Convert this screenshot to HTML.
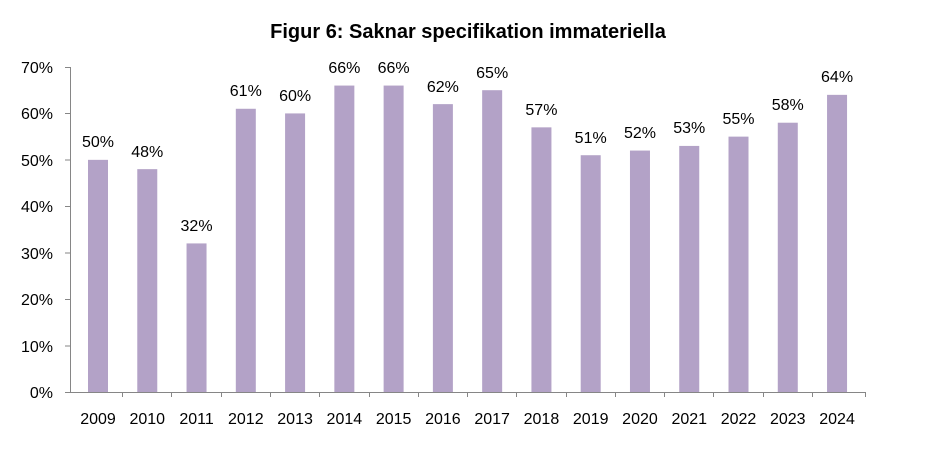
<!DOCTYPE html>
<html><head><meta charset="utf-8"><style>
html,body{margin:0;padding:0;background:#fff;}
svg{display:block;font-family:"Liberation Sans",Arial,sans-serif;}
</style></head><body>
<svg width="937" height="451" viewBox="0 0 937 451" xmlns="http://www.w3.org/2000/svg">
<rect width="937" height="451" fill="#fff"/>
<text x="468" y="38" text-anchor="middle" font-size="20" font-weight="bold" fill="#000">Figur 6: Saknar specifikation immateriella</text>
<g font-size="16" fill="#000" text-anchor="end">
<text x="53" y="398">0%</text>
<text x="53" y="352">10%</text>
<text x="53" y="305">20%</text>
<text x="53" y="259">30%</text>
<text x="53" y="212">40%</text>
<text x="53" y="166">50%</text>
<text x="53" y="119">60%</text>
<text x="53" y="73">70%</text>
</g>
<g fill="#b3a2c7">
<rect x="88" y="159.85" width="20" height="232.15"/>
<rect x="137.27" y="169.14" width="20" height="222.86"/>
<rect x="186.54" y="243.42" width="20" height="148.58"/>
<rect x="235.81" y="108.78" width="20" height="283.22"/>
<rect x="285.08" y="113.42" width="20" height="278.58"/>
<rect x="334.35" y="85.56" width="20" height="306.44"/>
<rect x="383.62" y="85.56" width="20" height="306.44"/>
<rect x="432.89" y="104.13" width="20" height="287.87"/>
<rect x="482.16" y="90.2" width="20" height="301.8"/>
<rect x="531.43" y="127.35" width="20" height="264.65"/>
<rect x="580.7" y="155.21" width="20" height="236.79"/>
<rect x="629.97" y="150.56" width="20" height="241.44"/>
<rect x="679.24" y="145.92" width="20" height="246.08"/>
<rect x="728.51" y="136.63" width="20" height="255.37"/>
<rect x="777.78" y="122.71" width="20" height="269.29"/>
<rect x="827.05" y="94.85" width="20" height="297.15"/>
</g>
<g font-size="16" fill="#000" text-anchor="middle">
<text x="98" y="147">50%</text>
<text x="147.27" y="157">48%</text>
<text x="196.54" y="231">32%</text>
<text x="245.81" y="96">61%</text>
<text x="295.08" y="101">60%</text>
<text x="344.35" y="73">66%</text>
<text x="393.62" y="73">66%</text>
<text x="442.89" y="92">62%</text>
<text x="492.16" y="78">65%</text>
<text x="541.43" y="115">57%</text>
<text x="590.7" y="143">51%</text>
<text x="639.97" y="138">52%</text>
<text x="689.24" y="133">53%</text>
<text x="738.51" y="124">55%</text>
<text x="787.78" y="110">58%</text>
<text x="837.05" y="82">64%</text>
</g>
<g font-size="16" fill="#000" text-anchor="middle">
<text x="98" y="424">2009</text>
<text x="147.27" y="424">2010</text>
<text x="196.54" y="424">2011</text>
<text x="245.81" y="424">2012</text>
<text x="295.08" y="424">2013</text>
<text x="344.35" y="424">2014</text>
<text x="393.62" y="424">2015</text>
<text x="442.89" y="424">2016</text>
<text x="492.16" y="424">2017</text>
<text x="541.43" y="424">2018</text>
<text x="590.7" y="424">2019</text>
<text x="639.97" y="424">2020</text>
<text x="689.24" y="424">2021</text>
<text x="738.51" y="424">2022</text>
<text x="787.78" y="424">2023</text>
<text x="837.05" y="424">2024</text>
</g>
<g stroke="#868686" stroke-width="1">
<line x1="70.5" y1="67" x2="70.5" y2="392"/>
<line x1="70" y1="392.5" x2="866" y2="392.5"/>
<line x1="65" y1="392.5" x2="70" y2="392.5"/>
<line x1="65" y1="346" x2="70" y2="346"/>
<line x1="65" y1="299.5" x2="70" y2="299.5"/>
<line x1="65" y1="253" x2="70" y2="253"/>
<line x1="65" y1="206.5" x2="70" y2="206.5"/>
<line x1="65" y1="160" x2="70" y2="160"/>
<line x1="65" y1="113.5" x2="70" y2="113.5"/>
<line x1="65" y1="67.5" x2="70" y2="67.5"/>
<line x1="122.5" y1="392" x2="122.5" y2="397"/>
<line x1="171.5" y1="392" x2="171.5" y2="397"/>
<line x1="221.5" y1="392" x2="221.5" y2="397"/>
<line x1="270.5" y1="392" x2="270.5" y2="397"/>
<line x1="319.5" y1="392" x2="319.5" y2="397"/>
<line x1="369.5" y1="392" x2="369.5" y2="397"/>
<line x1="418.5" y1="392" x2="418.5" y2="397"/>
<line x1="467.5" y1="392" x2="467.5" y2="397"/>
<line x1="516.5" y1="392" x2="516.5" y2="397"/>
<line x1="566.5" y1="392" x2="566.5" y2="397"/>
<line x1="615.5" y1="392" x2="615.5" y2="397"/>
<line x1="664.5" y1="392" x2="664.5" y2="397"/>
<line x1="713.5" y1="392" x2="713.5" y2="397"/>
<line x1="763.5" y1="392" x2="763.5" y2="397"/>
<line x1="812.5" y1="392" x2="812.5" y2="397"/>
<line x1="865.5" y1="392" x2="865.5" y2="397"/>
</g>
</svg>
</body></html>
